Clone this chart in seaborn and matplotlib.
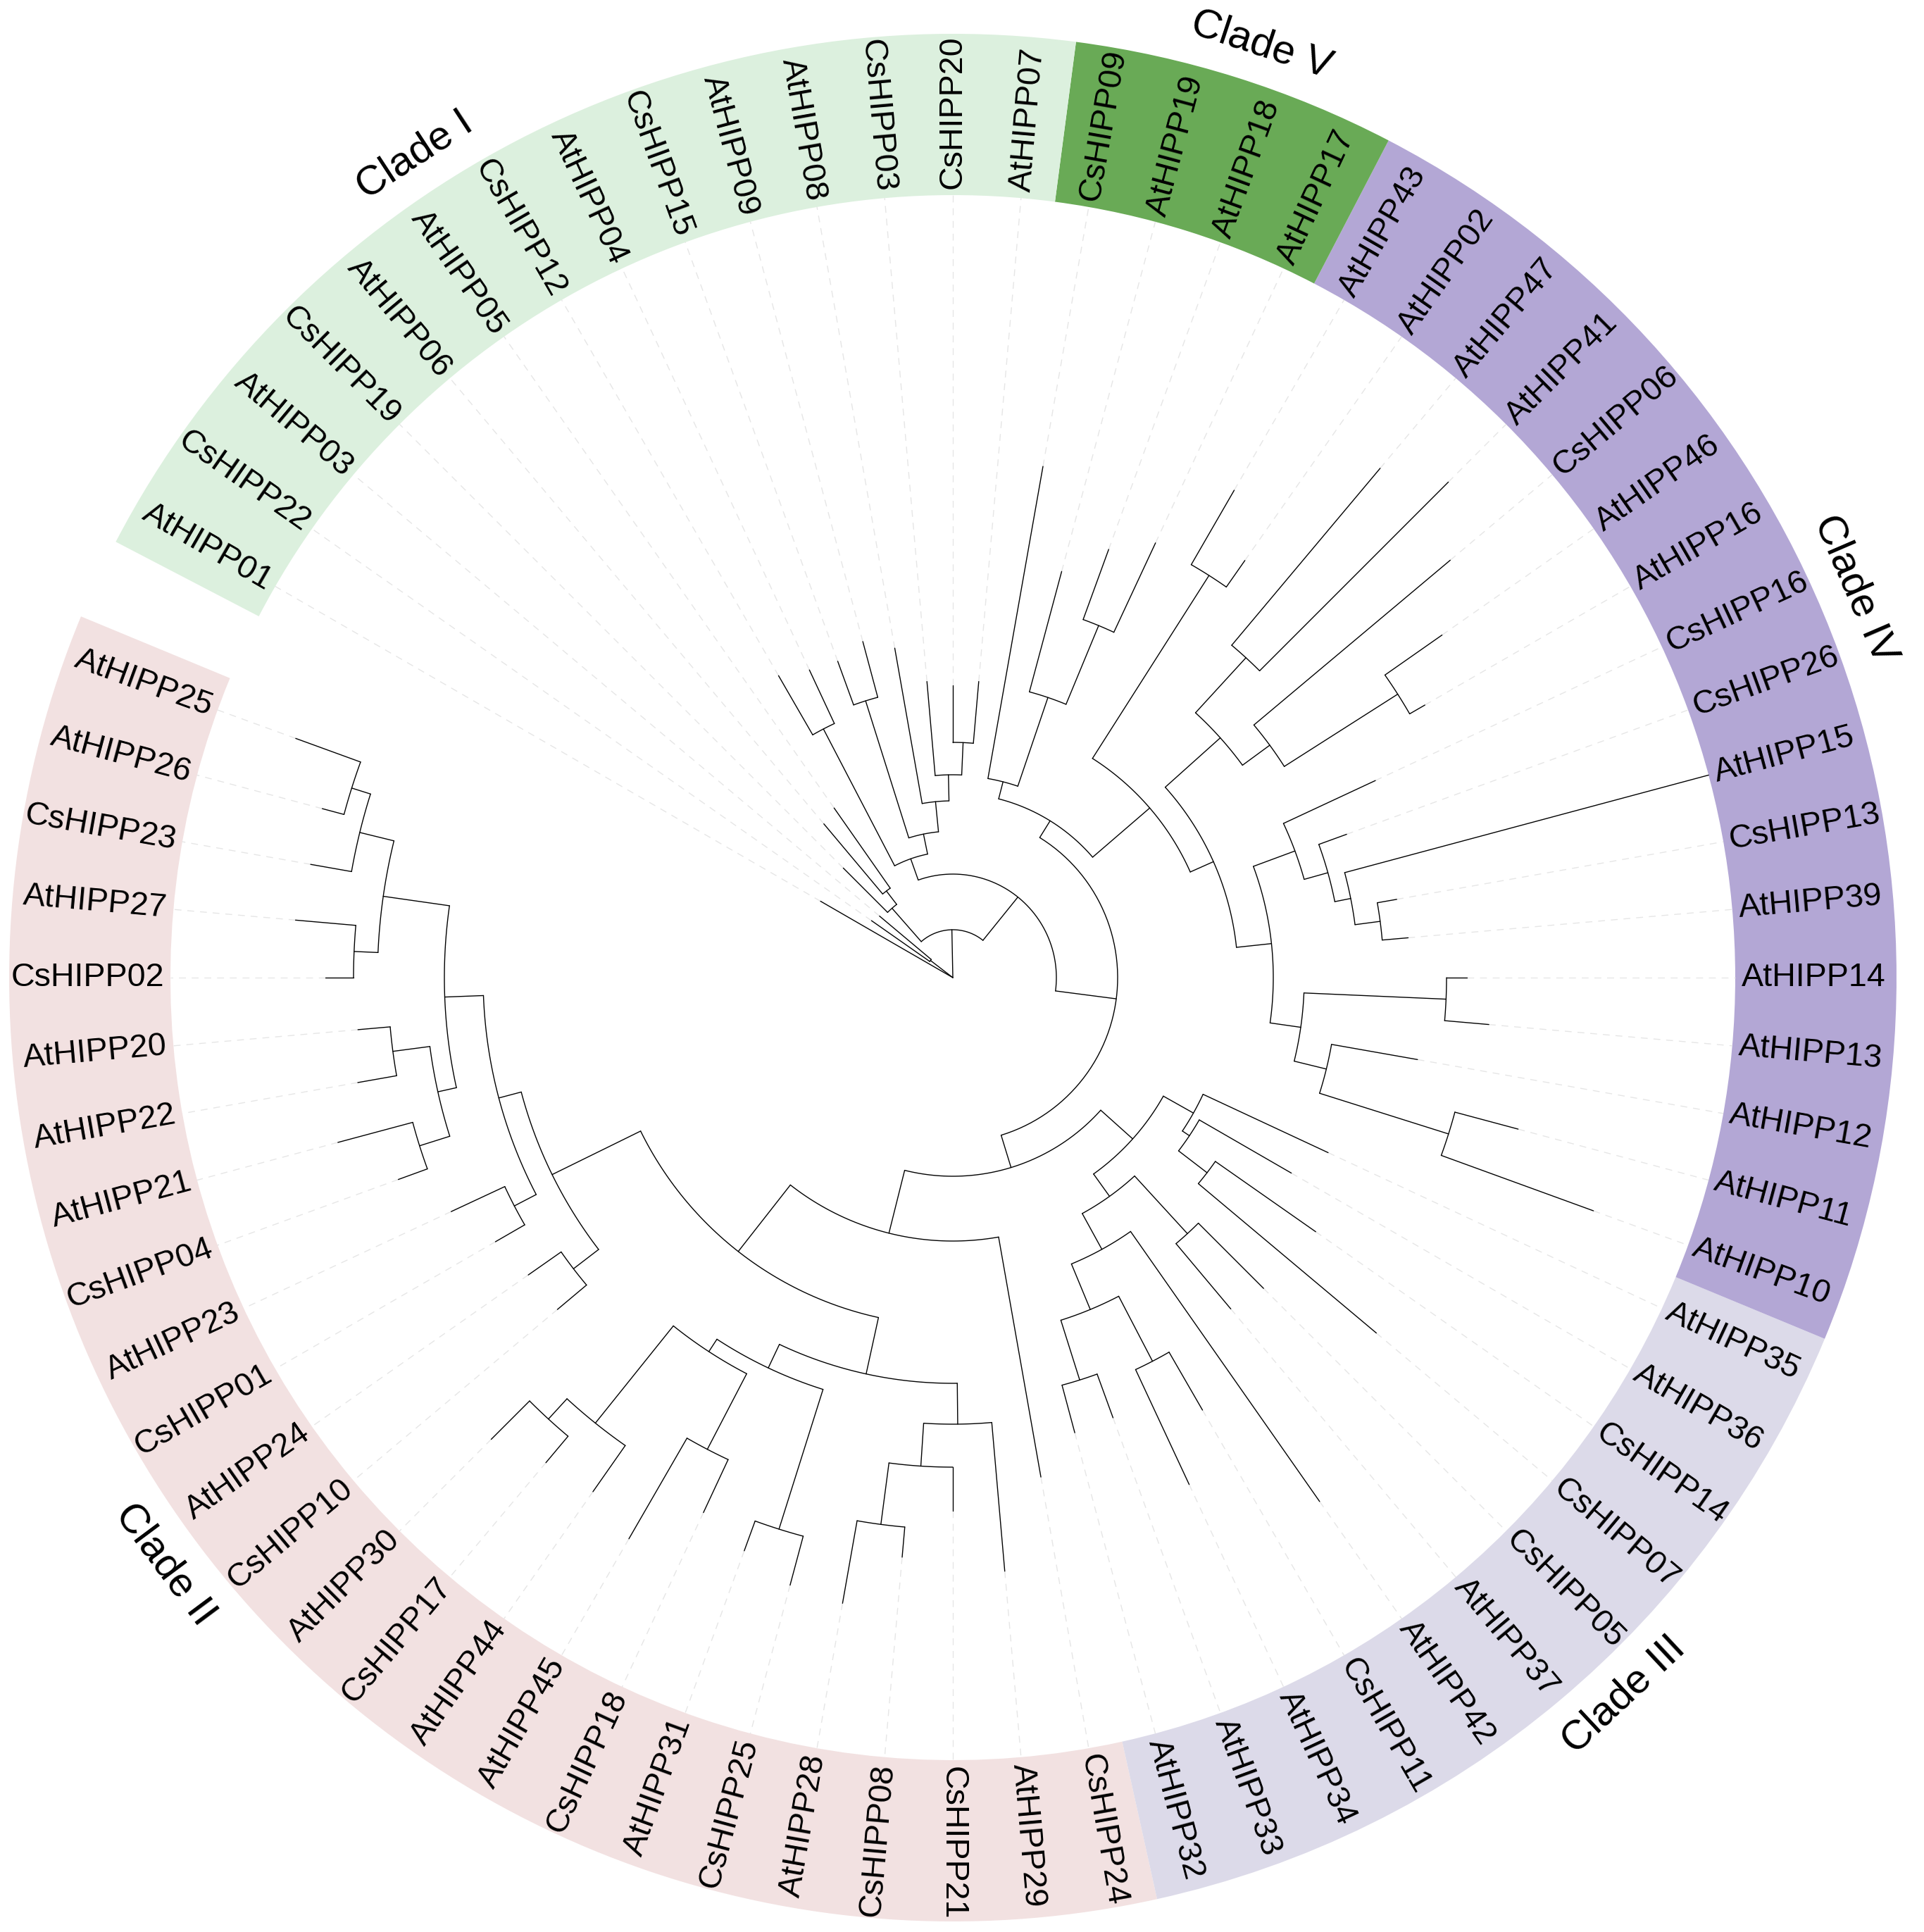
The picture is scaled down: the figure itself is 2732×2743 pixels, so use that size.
import numpy as np
import pandas as pd
import matplotlib
matplotlib.use("Agg")
import matplotlib.pyplot as plt
import seaborn as sns

# ===================================
# data: tips in display order (counter-clockwise, starting after the open gap)
# ===================================
tip_names = [
    "AtHIPP25", "AtHIPP26", "CsHIPP23", "AtHIPP27", "CsHIPP02", "AtHIPP20", "AtHIPP22",
    "AtHIPP21", "CsHIPP04", "AtHIPP23", "CsHIPP01", "AtHIPP24", "CsHIPP10", "AtHIPP30",
    "CsHIPP17", "AtHIPP44", "AtHIPP45", "CsHIPP18", "AtHIPP31", "CsHIPP25", "AtHIPP28",
    "CsHIPP08", "CsHIPP21", "AtHIPP29", "CsHIPP24",
    "AtHIPP32", "AtHIPP33", "AtHIPP34", "CsHIPP11", "AtHIPP42", "AtHIPP37", "CsHIPP05",
    "CsHIPP07", "CsHIPP14", "AtHIPP36", "AtHIPP35",
    "AtHIPP10", "AtHIPP11", "AtHIPP12", "AtHIPP13", "AtHIPP14", "AtHIPP39", "CsHIPP13",
    "AtHIPP15", "CsHIPP26", "CsHIPP16", "AtHIPP16", "AtHIPP46", "CsHIPP06", "AtHIPP41",
    "AtHIPP47", "AtHIPP02", "AtHIPP43",
    "AtHIPP17", "AtHIPP18", "AtHIPP19", "CsHIPP09",
    "AtHIPP07", "CsHIPP20", "CsHIPP03", "AtHIPP08", "AtHIPP09", "CsHIPP15", "AtHIPP04",
    "CsHIPP12", "AtHIPP05", "AtHIPP06", "CsHIPP19", "AtHIPP03", "CsHIPP22", "AtHIPP01",
]
tip_parent = [
    "P26", "P26", "P2", "P4", "P4", "Pa", "Pa",
    "Pd", "Pd", "Pe", "Pe", "Pf", "Pf", "Ph",
    "Ph", "Pg", "Pj", "Pj", "Pl", "Pl", "Po",
    "Po", "Pn", "Pm", "N5",
    "T10", "T10", "T11", "T11", "T6", "T7", "T7",
    "T5", "T5", "T4", "T3",
    "W16", "W16", "W15", "W14", "W14", "W13", "W13",
    "W12", "W11", "W8", "W7", "W7", "W6", "W5",
    "W5", "W1", "W1",
    "V3", "V3", "V2", "V",
    "W0", "W0", "Z", "Y", "B", "B", "A",
    "A", "Q2", "Q2", "Q", "P1", "P1", "root",
]
# distance from root (tree units)
tip_dist = [
    9.93, 9.27, 9.26, 9.37, 8.91, 8.48, 8.58,
    9.04, 8.38, 7.86, 7.50, 7.36, 7.33, 9.27,
    8.99, 8.91, 9.20, 8.38, 8.66, 8.93, 9.02,
    8.26, 7.57, 8.46, 7.20,
    6.69, 6.65, 7.94, 7.09, 9.08, 6.14, 6.24,
    7.85, 6.29, 5.55, 5.88,
    9.68, 8.31, 6.70, 7.64, 7.30, 6.49, 6.40,
    11.11, 5.95, 6.62, 7.74, 8.48, 9.22, 9.95,
    9.44, 7.23, 7.99,
    6.81, 6.47, 5.97, 7.37,
    4.22, 4.15, 4.22, 4.75, 4.94, 4.78, 4.82,
    4.95, 2.94, 2.85, 2.20, 1.36, 1.41, 2.17,
]

node_names = [
    "root", "P1", "N1", "Q", "Q2", "N2", "R", "A", "X", "B", "Y", "Z", "W0",
    "N3", "U1", "V", "V2", "V3", "W", "W1", "W2", "W3", "W5", "W6", "W7",
    "W4", "W8", "W11", "W12", "W13", "W9", "W14", "W15", "W16",
    "N4", "T1", "T2", "T6", "T8", "T10", "T11", "T7", "T3", "T4", "T5",
    "N5", "N6", "N7", "N8", "P5", "P3", "P2", "P26", "P4", "Pb", "Pa", "Pd",
    "Pe", "Pf", "N9", "Pk", "Pi", "Pg", "Ph", "Pj", "Pl", "Pm", "Pn", "Po",
]
node_parent = [
    None, "root", "root", "N1", "Q", "N1", "N2", "R", "R", "X", "X", "Y", "Z",
    "N2", "N3", "U1", "V", "V2", "U1", "W", "W", "W2", "W3", "W3", "W6",
    "W2", "W4", "W8", "W11", "W12", "W4", "W9", "W9", "W15",
    "N3", "N4", "T1", "T2", "T6", "T8", "T8", "T2", "T1", "T3", "T4",
    "N4", "N5", "N6", "N7", "N8", "P5", "P3", "P2", "P3", "P5", "Pb", "Pb",
    "N8", "N7", "N6", "N9", "Pk", "Pi", "Pg", "Pi", "Pk", "N9", "Pm", "Pn",
]
node_dist = [
    0.00, 0.40, 0.68, 1.31, 1.55, 1.47, 1.79, 3.98, 2.08, 4.12, 2.51, 2.88, 3.34,
    2.34, 2.62, 2.87, 4.20, 5.41, 3.69, 6.77, 4.05, 5.10, 6.16, 5.58, 7.49,
    4.55, 5.18, 5.53, 5.76, 6.12, 4.99, 7.01, 5.46, 7.38,
    2.82, 3.43, 3.82, 4.40, 5.10, 5.99, 6.14, 4.93, 3.92, 4.04, 4.55,
    3.74, 4.94, 6.34, 6.67, 7.22, 8.17, 8.67, 8.95, 8.51, 7.49, 8.02, 7.94,
    7.02, 6.79, 5.76, 6.13, 6.34, 8.11, 8.50, 7.55, 8.21, 6.34, 6.95, 7.83,
]

clade_names = ["Clade II", "Clade III", "Clade IV", "Clade V", "Clade I"]
clade_first = ["AtHIPP25", "AtHIPP32", "AtHIPP10", "AtHIPP17", "AtHIPP07"]
clade_last = ["CsHIPP24", "AtHIPP35", "AtHIPP43", "CsHIPP09", "AtHIPP01"]
clade_colors = ["#F2E1E1", "#DCDAE9", "#B3A7D5", "#69AA56", "#DCF0DE"]
clade_label_deg = [216.7, 313.1, 23.3, 71.7, 123.2]

# ===================================
# layout
# ===================================
W_PX, H_PX, DPI = 2732, 2743, 200
cx, cy, R = 1353, 1388, 1353          # centre of the circle (px from top-left)
start_deg, step_deg = 160, 5          # first tip angle, spacing between tips
align_r = 1111                        # aligned tip / start of coloured band
band_outer = 1340
label_r = 1120
clade_r = 1395

sns.set_theme(style="white")
plt.rcParams['font.family'] = ['Liberation Sans', 'DejaVu Sans']

fig = plt.figure(figsize=(W_PX / DPI, H_PX / DPI), dpi=DPI)
fig.patch.set_facecolor("white")
ax = fig.add_axes([(cx - R) / W_PX, (H_PX - cy - R) / H_PX, 2 * R / W_PX, 2 * R / H_PX],
                  projection="polar")

# ===================================
# tree geometry (ggtree style: node angle = mean of its children)
# ===================================
all_names = tip_names + node_names
all_parent = tip_parent + node_parent
all_dist = tip_dist + node_dist
scale = align_r / max(tip_dist)
rad = {n: d * scale for n, d in zip(all_names, all_dist)}

children = {}
for n, p in zip(all_names, all_parent):
    if p is not None:
        children.setdefault(p, []).append(n)

angle = {n: start_deg + step_deg * i for i, n in enumerate(tip_names)}


def node_angle(n):
    if n not in angle:
        angle[n] = np.mean([node_angle(c) for c in children[n]])
    return angle[n]


node_angle("root")

rows = []
seg = 0
for n, p in zip(all_names, all_parent):
    if p is None:
        continue
    th = np.deg2rad(angle[n])
    rows.append((seg, th, rad[p]))
    rows.append((seg, th, rad[n]))
    seg += 1
for p, ch in children.items():
    if rad[p] == 0:
        continue
    a = [angle[c] for c in ch]
    for t in np.deg2rad(np.linspace(min(a), max(a), 60)):
        rows.append((seg, t, rad[p]))
    seg += 1
branches = pd.DataFrame(rows, columns=["seg", "theta", "r"])

# ===================================
# coloured clade bands
# ===================================
for first, last, col in zip(clade_first, clade_last, clade_colors):
    a0 = angle[first] - step_deg / 2
    a1 = angle[last] + step_deg / 2
    ax.bar(np.deg2rad((a0 + a1) / 2), band_outer - align_r, width=np.deg2rad(a1 - a0),
           bottom=align_r, color=col, edgecolor="none", linewidth=0, zorder=0)

# dotted guide lines from tip to label
for n in tip_names:
    if rad[n] < align_r - 1:
        th = np.deg2rad(angle[n])
        ax.plot([th, th], [rad[n], align_r], color="#E6E6E6", lw=0.5,
                linestyle=(0, (7, 6)), zorder=1)

# branches
sns.lineplot(data=branches, x="theta", y="r", units="seg", estimator=None, sort=False,
             color="black", linewidth=0.5, legend=False, ax=ax, zorder=3)

# tip labels
for n in tip_names:
    a = angle[n] % 360
    if 90 < a < 270:
        rot, ha = a - 180, "right"
    else:
        rot, ha = (a if a <= 90 else a - 360), "left"
    ax.text(np.deg2rad(a), label_r, n, rotation=rot, rotation_mode="anchor",
            ha=ha, va="center", fontsize=16.8, color="black", zorder=4)

# clade labels
for name, a in zip(clade_names, clade_label_deg):
    a = a % 360
    rot = a - 90 if a < 180 else a - 270
    ax.text(np.deg2rad(a), clade_r, name, rotation=rot, rotation_mode="anchor",
            ha="center", va="center", fontsize=21, color="black", zorder=4)

ax.set_ylim(0, R)
ax.set_axis_off()

plt.savefig("out.png", dpi=DPI, facecolor="white")
